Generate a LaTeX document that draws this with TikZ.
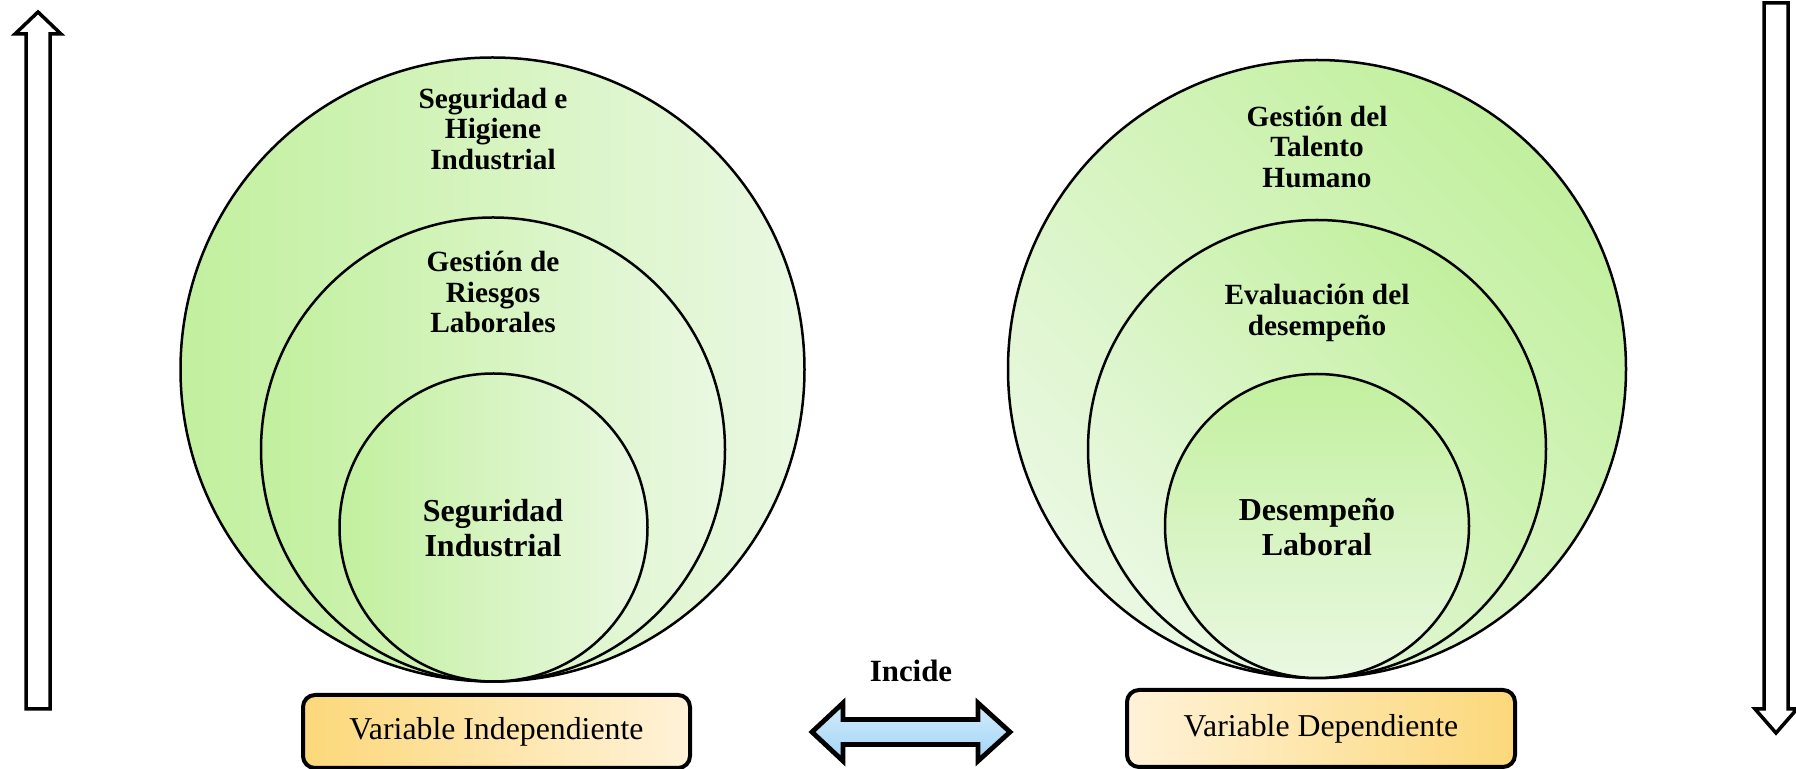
\documentclass[tikz,border=0pt]{standalone}
\usepackage{fontspec}
\setmainfont{Liberation Serif}
\definecolor{greenDeep}{RGB}{194,240,158}
\definecolor{greenPale}{RGB}{234,248,226}
\definecolor{goldDeep}{RGB}{252,216,122}
\definecolor{goldPale}{RGB}{255,242,216}
\definecolor{blueTop}{RGB}{212,236,252}
\definecolor{blueBot}{RGB}{160,212,247}
\begin{document}
\begin{tikzpicture}[x=0.5pt,y=-0.5pt,
  ring/.style={circle, draw=black, line width=1.25pt, inner sep=0pt},
  ringL/.style={ring, left color=greenDeep, right color=greenPale},
  ringR/.style={ring, top color=greenDeep, bottom color=greenPale, shading angle=-45},
  ringRin/.style={ring, top color=greenDeep, bottom color=greenPale},
  lbl/.style={font=\bfseries\fontsize{14.65pt}{15.2pt}\selectfont, align=center, inner sep=0pt},
  lblbig/.style={font=\bfseries\fontsize{16pt}{17.2pt}\selectfont, align=center, inner sep=0pt},
  varbox/.style={rectangle, rounded corners=6pt, draw=black, line width=2pt,
    font=\fontsize{15.9pt}{18pt}\selectfont, inner sep=0pt},
  hollow/.style={draw=black, fill=white, line width=1.75pt, line join=miter}
]
\useasboundingbox (0,0) rectangle (1796,769);

% side arrows
\draw[hollow] (26,709) -- (26,34) -- (15,34) -- (38,12) -- (61,34) -- (50,34) -- (50,709) -- cycle;
\draw[hollow] (1764,3) -- (1764,709) -- (1755,709) -- (1776,733) -- (1797,709) -- (1788,709) -- (1788,3) -- cycle;

% left set of nested circles
\node[ringL, minimum size=312pt] (segHig) at (492.5,369.5) {};
\node[ringL, minimum size=232pt] (gesRie) at (493,449.5) {};
\node[ringL, minimum size=154pt] (segInd) at (493.5,527.5) {};

% right set of nested circles
\node[ringR, minimum size=309pt] (gesTal) at (1317,369) {};
\node[ringR, minimum size=229pt] (evaDes) at (1317,449) {};
\node[ringRin, minimum size=152pt] (desLab) at (1317,526) {};

% circle labels
\node[lbl] (tSegHig) at (493,129) {Seguridad e\\Higiene\\Industrial};
\node[lbl] (tGesRie) at (493,292) {Gestión de\\Riesgos\\Laborales};
\node[lblbig] (tSegInd) at (493,528) {Seguridad\\Industrial};
\node[lbl] (tGesTal) at (1317,147) {Gestión del\\Talento\\Humano};
\node[lbl] (tEvaDes) at (1317,313) {Evaluación del\\desempeño};
\node[lblbig] (tDesLab) at (1317,527) {Desempeño\\Laboral};

% variable boxes
\node[varbox, left color=goldDeep, right color=goldPale, minimum width=193.5pt, minimum height=36.5pt]
  (varInd) at (496.5,731.5) {Variable Independiente};
\node[varbox, left color=goldPale, right color=goldDeep, minimum width=194pt, minimum height=38.5pt]
  (varDep) at (1321,728.5) {Variable Dependiente};

% relation arrow between the variables
\node[font=\bfseries\fontsize{15.45pt}{18pt}\selectfont, inner sep=0pt] (incide) at (911,671) {Incide};
\draw[line width=2.4pt, line join=miter, top color=blueTop, bottom color=blueBot]
  (812,732) -- (843,703) -- (843,719.5) -- (978,719.5) -- (978,703) -- (1010,732)
  -- (978,761) -- (978,744.5) -- (843,744.5) -- (843,761) -- cycle;
\end{tikzpicture}
\end{document}
